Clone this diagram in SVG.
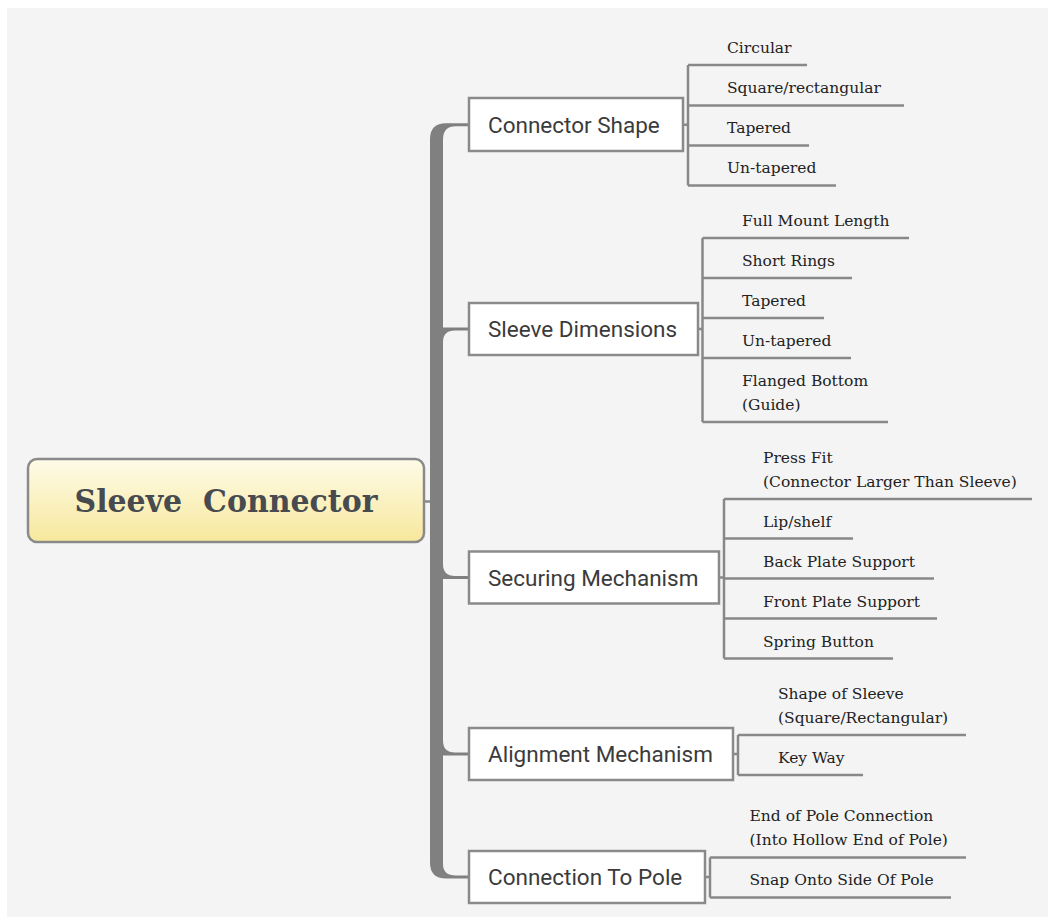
<svg xmlns="http://www.w3.org/2000/svg" width="1048" height="917" viewBox="0 0 1048 917">
  <defs>
    <linearGradient id="rootFill" x1="0" y1="0" x2="0" y2="1">
      <stop offset="0" stop-color="#fefbe8"/>
      <stop offset="1" stop-color="#f7e89c"/>
    </linearGradient>
    <style>
      .topic { fill: #ffffff; stroke: #8a8a8a; stroke-width: 2.5; }
      .topic-label { font-family: Roboto, "Liberation Sans", sans-serif; font-size: 22.5px; fill: #3b3b3b; }
      .leaf-label { font-family: "DejaVu Serif", "Liberation Serif", serif; font-size: 15.5px; fill: #222222; }
      .twig { fill: none; stroke: #888888; stroke-width: 2.5; }
      .trunk { fill: #808080; }
    </style>
  </defs>

  <!-- canvas -->
  <rect x="0" y="0" width="1048" height="917" fill="#ffffff"/>
  <rect x="7" y="8" width="1041" height="909" fill="#f4f4f4"/>

  <!-- connectors -->
  <g id="connectors">
    <!-- root to trunk -->
    <line class="twig" x1="424" y1="501.5" x2="432" y2="501.5"/>
    <!-- main trunk with rounded ends -->
    <path class="trunk" d="M430,139 Q430,123.2 446,123.2 L469,123.2 L469,126.2 L456,126.2 Q443,126.2 443,139.5 L443,864 Q443,875.5 456,875.5 L469,875.5 L469,878.5 L446,878.5 Q430,878.5 430,862.5 Z"/>
    <!-- branch above the root: fillet below -->
    <path class="trunk" d="M442,327.5 L469,327.5 L469,330.5 L455,330.5 Q443,330.5 443,342 L442,342 Z"/>
    <!-- branches below the root: fillet above -->
    <path class="trunk" d="M442,576 L469,576 L469,579 L442,579 Z M443,564 Q443,576 455,576 L443,576 Z"/>
    <path class="trunk" d="M442,752.5 L469,752.5 L469,755.5 L442,755.5 Z M443,740.5 Q443,752.5 455,752.5 L443,752.5 Z"/>

    <!-- Connector Shape subtopics -->
    <path class="twig" d="M683,124.7 H688 M688,65 V185.5 M688,65 H807 M688,105.5 H904 M688,145.5 H809 M688,185.5 H836"/>
    <!-- Sleeve Dimensions subtopics -->
    <path class="twig" d="M698,329 H702.5 M702.5,238 V422 M702.5,238 H909 M702.5,278 H852 M702.5,318 H824 M702.5,358 H851 M702.5,422 H888"/>
    <!-- Securing Mechanism subtopics -->
    <path class="twig" d="M719,577.5 H724 M724,499 V658.5 M724,499 H1032 M724,538.5 H853 M724,578.5 H934 M724,618.5 H937 M724,658.5 H893"/>
    <!-- Alignment Mechanism subtopics -->
    <path class="twig" d="M733,754 H738 M738,735 V775 M738,735 H966 M738,775 H863"/>
    <!-- Connection To Pole subtopics -->
    <path class="twig" d="M705.5,877 H710 M710,857.5 V897.5 M710,857.5 H966 M710,897.5 H951"/>
  </g>

  <!-- central topic -->
  <g id="root">
    <rect x="28" y="459" width="396" height="83" rx="9" fill="url(#rootFill)" stroke="#8a8a8a" stroke-width="2.5"/>
    <text x="226" y="512" text-anchor="middle" font-family="'DejaVu Serif', 'Liberation Serif', serif" font-weight="bold" font-size="31" fill="#474b4f" textLength="303" lengthAdjust="spacingAndGlyphs" xml:space="preserve">Sleeve  Connector</text>
  </g>

  <!-- main topics -->
  <g id="connector-shape">
    <rect class="topic" x="469" y="98" width="214" height="53"/>
    <text class="topic-label" x="488" y="132.5">Connector Shape</text>
  </g>
  <g id="sleeve-dimensions">
    <rect class="topic" x="469" y="303" width="229" height="52"/>
    <text class="topic-label" x="488" y="337">Sleeve Dimensions</text>
  </g>
  <g id="securing-mechanism">
    <rect class="topic" x="469" y="551.5" width="250" height="52"/>
    <text class="topic-label" x="488" y="585.5">Securing Mechanism</text>
  </g>
  <g id="alignment-mechanism">
    <rect class="topic" x="469" y="728" width="264" height="52"/>
    <text class="topic-label" x="488" y="762">Alignment Mechanism</text>
  </g>
  <g id="connection-to-pole">
    <rect class="topic" x="469" y="851" width="236" height="52"/>
    <text class="topic-label" x="488" y="885">Connection To Pole</text>
  </g>

  <!-- subtopics: Connector Shape -->
  <g id="cs-circular"><text class="leaf-label" x="727" y="53">Circular</text></g>
  <g id="cs-square"><text class="leaf-label" x="727" y="93">Square/rectangular</text></g>
  <g id="cs-tapered"><text class="leaf-label" x="727" y="133">Tapered</text></g>
  <g id="cs-untapered"><text class="leaf-label" x="727" y="173">Un-tapered</text></g>

  <!-- subtopics: Sleeve Dimensions -->
  <g id="sd-full"><text class="leaf-label" x="742" y="226">Full Mount Length</text></g>
  <g id="sd-short"><text class="leaf-label" x="742" y="266">Short Rings</text></g>
  <g id="sd-tapered"><text class="leaf-label" x="742" y="306">Tapered</text></g>
  <g id="sd-untapered"><text class="leaf-label" x="742" y="346">Un-tapered</text></g>
  <g id="sd-flanged"><text class="leaf-label" x="742" y="386">Flanged Bottom<tspan x="742" y="410">(Guide)</tspan></text></g>

  <!-- subtopics: Securing Mechanism -->
  <g id="sm-press"><text class="leaf-label" x="763" y="462.5">Press Fit<tspan x="763" y="486.5">(Connector Larger Than Sleeve)</tspan></text></g>
  <g id="sm-lip"><text class="leaf-label" x="763" y="526.5">Lip/shelf</text></g>
  <g id="sm-back"><text class="leaf-label" x="763" y="566.5">Back Plate Support</text></g>
  <g id="sm-front"><text class="leaf-label" x="763" y="606.5">Front Plate Support</text></g>
  <g id="sm-spring"><text class="leaf-label" x="763" y="646.5">Spring Button</text></g>

  <!-- subtopics: Alignment Mechanism -->
  <g id="am-shape"><text class="leaf-label" x="778" y="698.5">Shape of Sleeve<tspan x="778" y="722.5">(Square/Rectangular)</tspan></text></g>
  <g id="am-key"><text class="leaf-label" x="778" y="763">Key Way</text></g>

  <!-- subtopics: Connection To Pole -->
  <g id="cp-end"><text class="leaf-label" x="749.5" y="821">End of Pole Connection<tspan x="749.5" y="845">(Into Hollow End of Pole)</tspan></text></g>
  <g id="cp-snap"><text class="leaf-label" x="749.5" y="885">Snap Onto Side Of Pole</text></g>
</svg>
